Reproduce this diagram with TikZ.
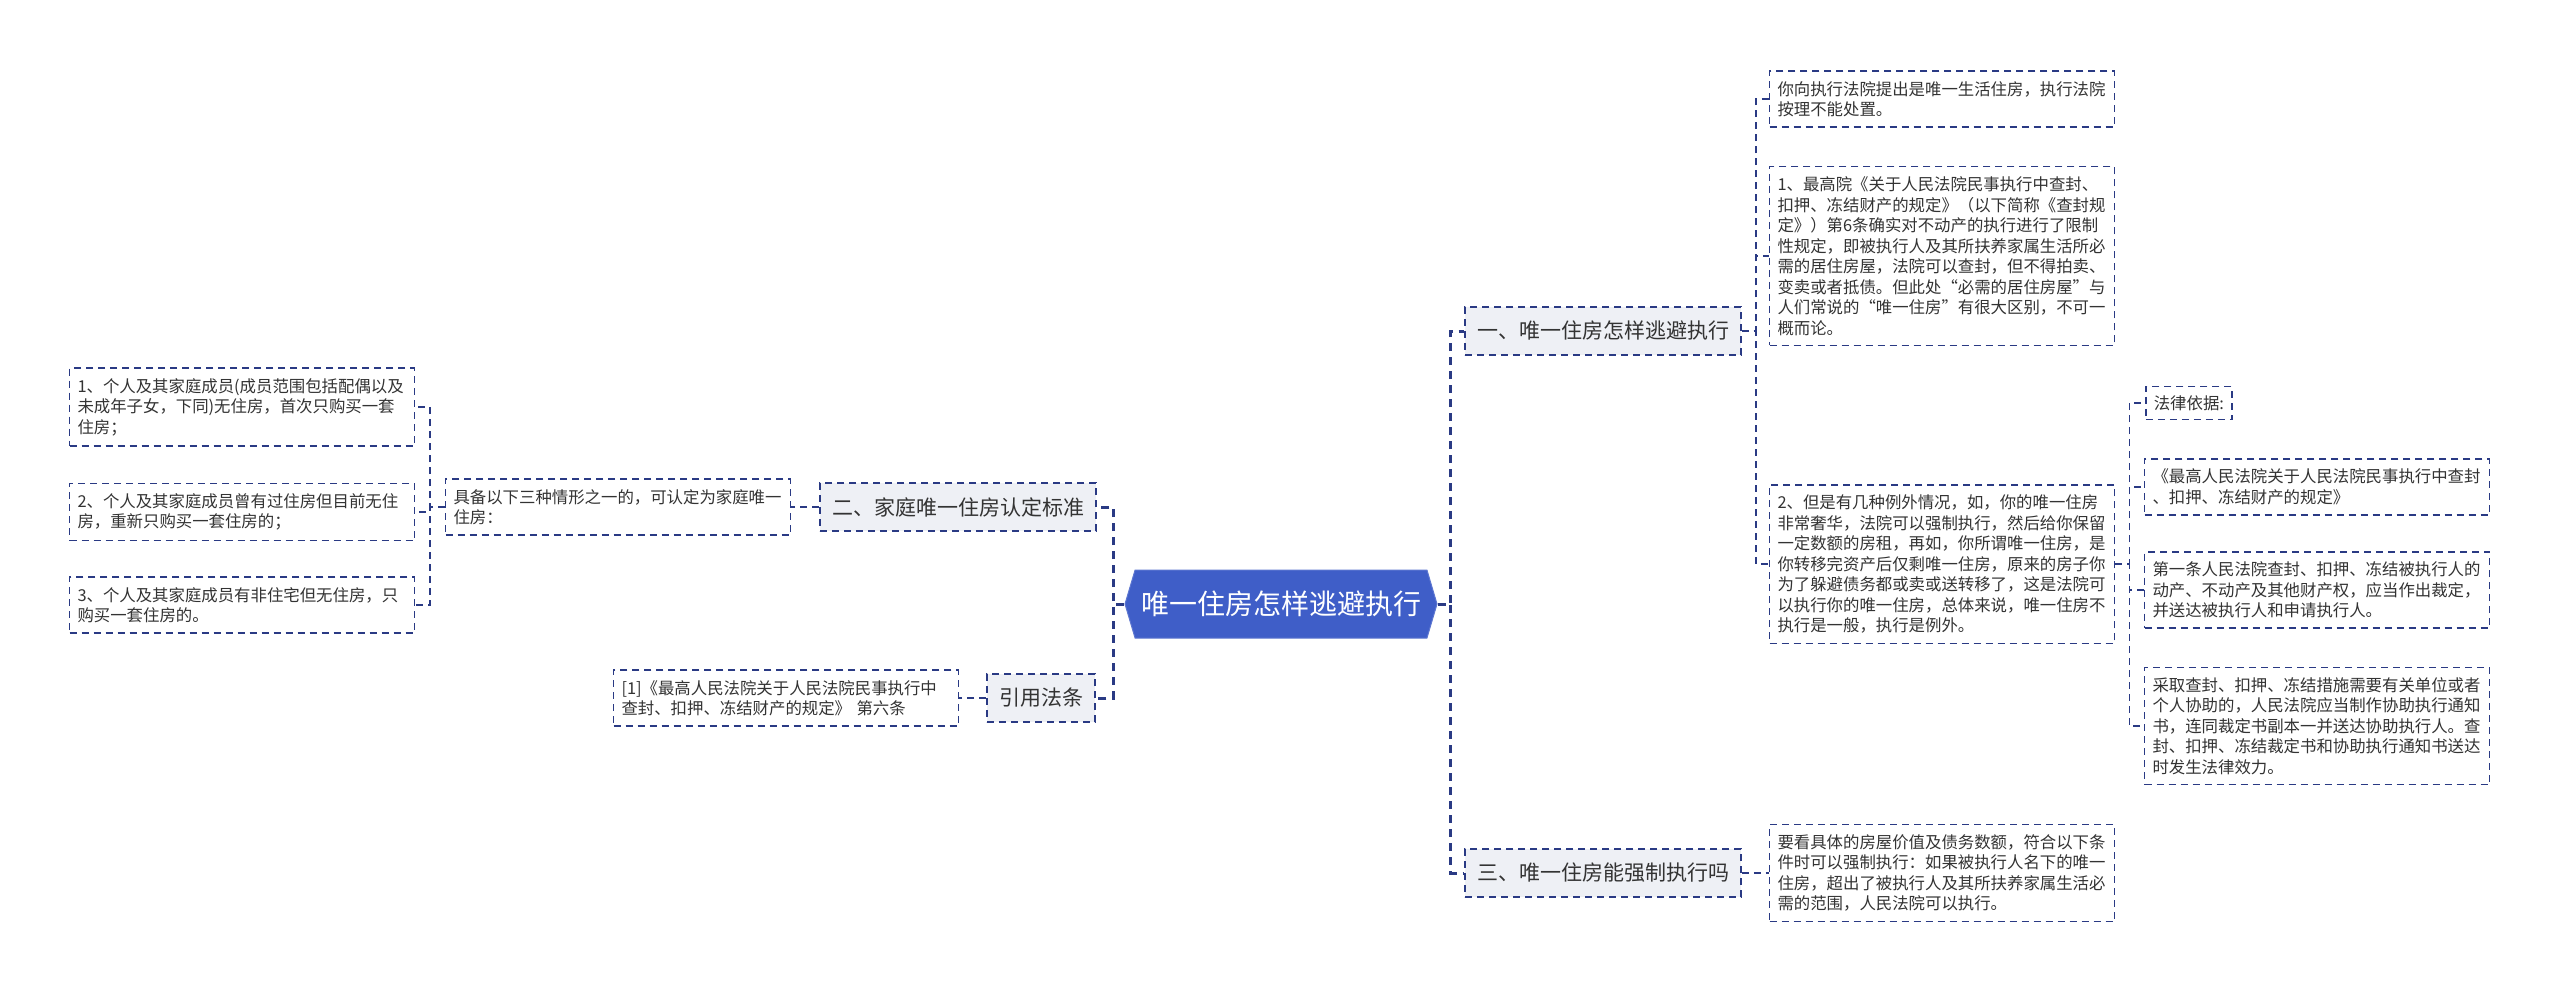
\documentclass[tikz,border=0pt]{standalone}
\usepackage{fontspec}
\setmainfont{Noto Sans CJK SC}
\usepackage{xcolor}
\usepackage{tikz}
\usetikzlibrary{shapes.symbols}
\definecolor{hexblue}{RGB}{63,94,200}
\definecolor{linenavy}{RGB}{42,58,132}
\definecolor{boxgray}{RGB}{238,240,245}
\definecolor{textgray}{RGB}{51,51,51}

\begin{document}
\begin{tikzpicture}[
  x=1pt, y=-1pt,
  every node/.style={align=left, text=textgray},
  rootnode/.style={shape=signal, signal to=west and east, signal pointer angle=147,
                   fill=hexblue, draw=hexblue!85!white, line width=1pt, text=white,
                   minimum width=312pt, minimum height=68pt, inner sep=0pt,
                   font=\fontsize{28}{32}\selectfont},
  topicbox/.style={draw=linenavy, fill=boxgray, line width=1.6pt,
                   dash pattern=on 7pt off 5pt, minimum width=#1, minimum height=48pt,
                   inner sep=0pt, align=center, font=\fontsize{21}{24}\selectfont},
  leafbox/.style={draw=linenavy, line width=1.6pt, dash pattern=on 7pt off 5pt,
                  text width=329pt, inner xsep=8pt, inner ysep=10pt,
                  font=\fontsize{16.4}{20.5}\selectfont},
  tagbox/.style={draw=linenavy, line width=1.6pt, dash pattern=on 7pt off 5pt,
                 inner xsep=8pt, inner ysep=9pt, font=\fontsize{16.4}{20.5}\selectfont},
  mainlink/.style={draw=linenavy, line width=3pt, dash pattern=on 8pt off 6pt},
  sublink/.style={draw=linenavy, line width=1.6pt, dash pattern=on 7pt off 5pt},
]

%% page frame (2560 x 994)
\fill[white] (0,0) rectangle (2560,994);
\useasboundingbox (0,0) rectangle (2560,994);

%% column x-positions
\def\xE{242}     % left leaves
\def\xD{618}     % criteria text
\def\xR{786}     % citation text
\def\xL{958}     % left topic
\def\xQ{1041}    % citation topic
\def\xM{1281}    % root
\def\xT{1603}    % right topics
\def\xA{1942}    % right leaves
\def\xB{2317}    % legal basis leaves

%% root
\node[rootnode] (root) at (\xM,604) {唯一住房怎样逃避执行};

%% right topics
\node[topicbox=276pt] (n1) at (\xT,331) {一、唯一住房怎样逃避执行};
\node[topicbox=276pt] (n3) at (\xT,873) {三、唯一住房能强制执行吗};

%% left topics
\node[topicbox=276pt] (n2) at (\xL,507) {二、家庭唯一住房认定标准};
\node[topicbox=108pt] (nref) at (\xQ,698) {引用法条};

%% leaves of topic one
\node[leafbox] (a1) at (\xA,99) {你向执行法院提出是唯一生活住房，执行法院\\按理不能处置。};
\node[leafbox] (a2) at (\xA,256) {1、最高院《关于人民法院民事执行中查封、\\扣押、冻结财产的规定》（以下简称《查封规\\定》）第6条确实对不动产的执行进行了限制\\性规定，即被执行人及其所扶养家属生活所必\\需的居住房屋，法院可以查封，但不得拍卖、\\变卖或者抵债。但此处“必需的居住房屋”与\\人们常说的“唯一住房”有很大区别，不可一\\概而论。};
\node[leafbox] (a3) at (\xA,564) {2、但是有几种例外情况，如，你的唯一住房\\非常奢华，法院可以强制执行，然后给你保留\\一定数额的房租，再如，你所谓唯一住房，是\\你转移完资产后仅剩唯一住房，原来的房子你\\为了躲避债务都或卖或送转移了，这是法院可\\以执行你的唯一住房，总体来说，唯一住房不\\执行是一般，执行是例外。};

%% legal basis
\node[tagbox, anchor=west] (b1) at (2145,403) {法律依据:};
\node[leafbox] (b2) at (\xB,487) {《最高人民法院关于人民法院民事执行中查封\\、扣押、冻结财产的规定》};
\node[leafbox] (b3) at (\xB,590) {第一条人民法院查封、扣押、冻结被执行人的\\动产、不动产及其他财产权，应当作出裁定，\\并送达被执行人和申请执行人。};
\node[leafbox] (b4) at (\xB,726) {采取查封、扣押、冻结措施需要有关单位或者\\个人协助的，人民法院应当制作协助执行通知\\书，连同裁定书副本一并送达协助执行人。查\\封、扣押、冻结裁定书和协助执行通知书送达\\时发生法律效力。};

%% leaf of topic three
\node[leafbox] (c1) at (\xA,873) {要看具体的房屋价值及债务数额，符合以下条\\件时可以强制执行：如果被执行人名下的唯一\\住房，超出了被执行人及其所扶养家属生活必\\需的范围，人民法院可以执行。};

%% topic two
\node[leafbox] (d) at (\xD,507) {具备以下三种情形之一的，可认定为家庭唯一\\住房：};
\node[leafbox] (e1) at (\xE,407) {1、个人及其家庭成员(成员范围包括配偶以及\\未成年子女，下同)无住房，首次只购买一套\\住房；};
\node[leafbox] (e2) at (\xE,512) {2、个人及其家庭成员曾有过住房但目前无住\\房，重新只购买一套住房的；};
\node[leafbox] (e3) at (\xE,605) {3、个人及其家庭成员有非住宅但无住房，只\\购买一套住房的。};

%% citation
\node[leafbox] (ref) at (\xR,698) {[1]《最高人民法院关于人民法院民事执行中\\查封、扣押、冻结财产的规定》 第六条};

%% ---- connectors ----
\foreach \c in {n1,n3}{
  \draw[mainlink] (root.east) -- ++(13,0) |- (\c.west);
}
\foreach \c in {n2,nref}{
  \draw[mainlink] (root.west) -- ++(-11,0) |- (\c.east);
}
\foreach \c in {a1,a2,a3}{
  \draw[sublink] (n1.east) -- ++(14,0) |- (\c.west);
}
\foreach \c in {b1,b2,b3,b4}{
  \draw[sublink] (a3.east) -- ++(14,0) |- (\c.west);
}
\foreach \c in {e1,e2,e3}{
  \draw[sublink] (d.west) -- ++(-15,0) |- (\c.east);
}
\draw[sublink] (n3.east) -- (c1.west);
\draw[sublink] (n2.west) -- (d.east);
\draw[sublink] (nref.west) -- (ref.east);

\end{tikzpicture}
\end{document}
